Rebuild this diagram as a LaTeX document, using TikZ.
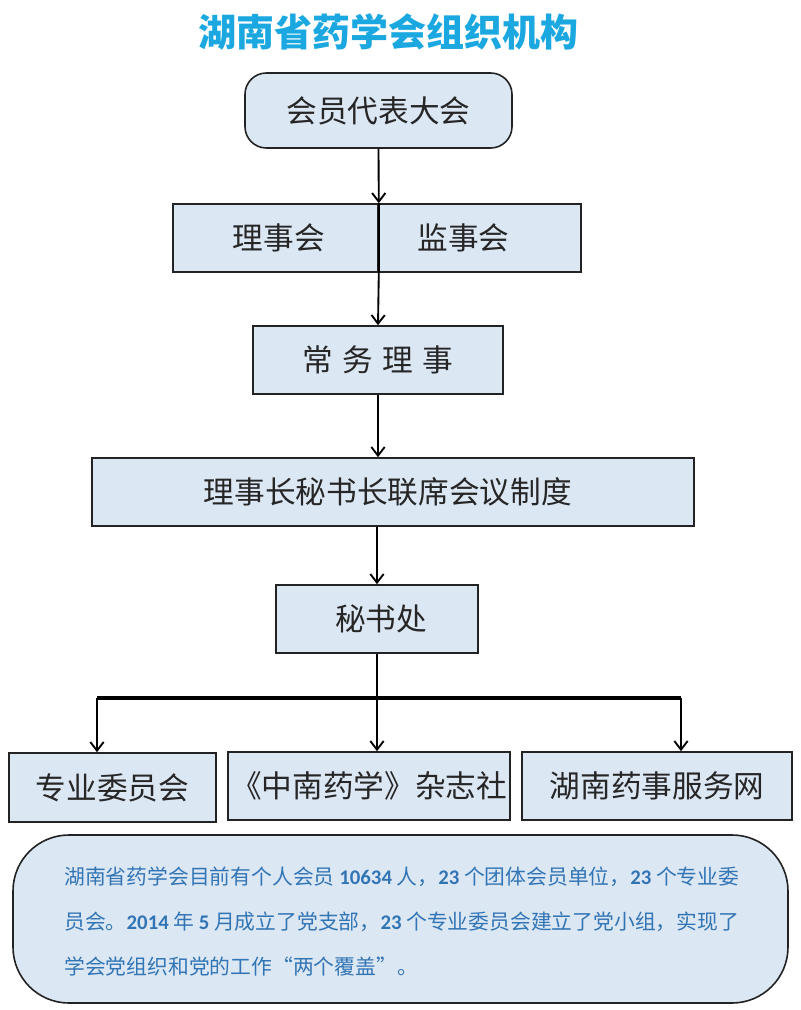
\documentclass[tikz,border=0pt]{standalone}
\usepackage{fontspec}
\setmainfont{Noto Sans CJK SC}
\newfontfamily\numfont{Carlito}
\usetikzlibrary{arrows.meta}
\definecolor{boxfill}{RGB}{220,231,244}
\definecolor{boxline}{RGB}{35,35,35}
\definecolor{titleblue}{RGB}{27,168,224}
\definecolor{noteblue}{RGB}{50,117,181}
\newcommand\nb[1]{{\numfont\bfseries #1}}
\begin{document}
\begin{tikzpicture}[x=0.75pt,y=-0.75pt,
  box/.style={draw=boxline, fill=boxfill, line width=1.2pt, rectangle, inner sep=0pt,
    font=\fontsize{23}{27}\selectfont, text=black!85},
  conn/.style={draw=black, line width=1.4pt},
  arr/.style={conn, -{Straight Barb[length=6.5pt,width=10pt,line width=1.4pt]}},
  note/.style={anchor=west, inner sep=0pt, text=noteblue, font=\fontsize{15.6}{18}\selectfont}
]
\useasboundingbox (0,0) rectangle (800,1010);
\fill[white] (0,0) rectangle (800,1010);

% title
\node[text=titleblue, font=\fontsize{28.5}{32}\selectfont\bfseries] (title) at (388,32) {湖南省药学会组织机构};

% boxes
\node[box, rounded corners=16pt, minimum width=200.25pt, minimum height=56.25pt] (hy) at (378.5,110.5) {会员代表大会};
\node[box, minimum width=153.75pt, minimum height=51pt] (lsh) at (275.5,238) {\hspace{5pt}理事会};
\node[box, minimum width=152.25pt, minimum height=51pt,
  label={[font=\fontsize{23}{27}\selectfont, text=black!85, xshift=-12pt]center:监事会}] (jsh) at (479.5,238) {};
\node[box, minimum width=187.5pt, minimum height=51pt] (cw) at (378,360) {常\hspace{7pt}务\hspace{7pt}理\hspace{7pt}事};
\node[box, minimum width=451.5pt, minimum height=51pt] (ls) at (393,492) {\hspace{-8pt}理事长秘书长联席会议制度};
\node[box, minimum width=151.5pt, minimum height=51pt] (msc) at (377,619) {\hspace{6pt}秘书处};
\node[box, minimum width=155.25pt, minimum height=51.75pt] (zy) at (112.5,787.5) {专业委员会};
\node[box, minimum width=211.5pt, minimum height=51pt] (zn) at (369,786) {《中南药学》杂志社};
\node[box, minimum width=202.5pt, minimum height=51pt] (hn) at (657,786) {湖南药事服务网};

% note box
\node[draw=boxline, fill=boxfill, line width=1.2pt, rounded corners=42pt, minimum width=581.25pt, minimum height=126pt, inner sep=0pt] (nt) at (400.5,919) {};
\node[note] (l1) at (64,877) {湖南省药学会目前有个人会员 \nb{10634} 人，\nb{23} 个团体会员单位，\nb{23} 个专业委};
\node[note] (l2) at (64,922) {员会。\nb{2014} 年 \nb{5} 月成立了党支部，\nb{23} 个专业委员会建立了党小组，实现了};
\node[note] (l3) at (64,967) {学会党组织和党的工作“两个覆盖”。};

% connectors
\draw[arr] (hy.south) -- (lsh.north east);
\draw[conn] (lsh.north east) -- (lsh.south east);
\draw[arr] (lsh.south east) -- (cw.north);
\draw[arr] (cw.south) -- (cw.south |- ls.north);
\draw[arr] (msc.north |- ls.south) -- (msc.north);
\coordinate (jl) at (97,698);
\coordinate (jr) at (681,698);
\draw[line width=2.4pt] (jl) -- (jr);
\draw[arr] (msc.south) -- (msc.south |- zn.north);
\draw[arr] (jl) -- (jl |- zy.north);
\draw[arr] (jr) -- (jr |- hn.north);
\end{tikzpicture}
\end{document}
